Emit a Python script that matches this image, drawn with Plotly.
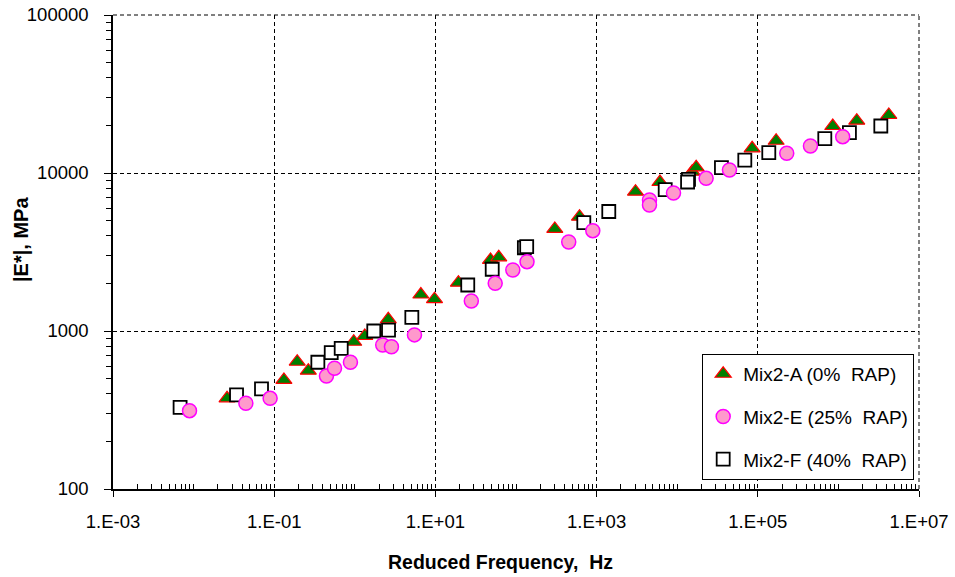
import plotly.graph_objects as go

# ---- data ----
freq_A = [0.026, 0.132, 0.193, 0.265, 0.97, 1.33, 1.84, 2.60, 6.6, 9.75, 19.3, 48.3, 61.1,
          303, 614, 3040, 6110, 15350, 17200, 85100, 168800, 851000, 1.69e6, 4.22e6]
mod_A = [375, 490, 639, 561, 855, 930, 990, 1186, 1702, 1590, 2022, 2815, 2927,
         4424, 5290, 7620, 8770, 10190, 10870, 14330, 16000, 19830, 21430, 23290]

freq_E = [0.0089, 0.0445, 0.089, 0.445, 0.56, 0.883, 2.22, 2.85, 5.5, 27.9, 55.2, 91.3, 137,
          451, 897, 4530, 4530, 9000, 22860, 44500, 228600, 450000, 1.13e6]
mod_E = [313, 349, 375, 519, 581, 634, 815, 795, 945, 1549, 2004, 2432, 2746,
         3658, 4313, 6747, 6270, 7470, 9250, 10450, 13330, 14830, 16980]

freq_F = [0.0068, 0.0341, 0.0696, 0.348, 0.51, 0.678, 1.72, 2.62, 5.1, 25.2, 50.7, 127, 135.7,
          694, 1416, 7100, 13810, 13450, 35400, 69000, 136900, 678000, 1.37e6, 3.36e6]
mod_F = [329, 394, 430, 634, 729, 777, 1000, 1014, 1221, 1955, 2459, 3365, 3417,
         4846, 5706, 7852, 9121, 8770, 10810, 12080, 13440, 16480, 17990, 19830]

names = ["Mix2-A (0%\u00a0 RAP)", "Mix2-E (25%\u00a0 RAP)", "Mix2-F (40%\u00a0 RAP)"]

x_tickvals = [1e-3, 1e-1, 1e1, 1e3, 1e5, 1e7]
x_ticktext = ["1.E-03", "1.E-01", "1.E+01", "1.E+03", "1.E+05", "1.E+07"]
y_tickvals = [100, 1000, 10000, 100000]
y_ticktext = ["100", "1000", "10000", "100000"]

x_minor = [m * 10.0 ** k for k in range(-3, 7) for m in range(2, 10)] + [1e-2, 1, 1e2, 1e4, 1e6]
y_minor = [m * 10.0 ** k for k in range(2, 5) for m in range(2, 10)]

FONT = "Liberation Sans, Arial, sans-serif"

fig = go.Figure()
fig.add_trace(go.Scatter(
    x=freq_A, y=mod_A, mode="markers", name=names[0], legendrank=1, legendgroup="a",
    marker=dict(symbol="triangle-up", size=14, color="#008000", line=dict(color="#FF0000", width=1.2)),
))
fig.add_trace(go.Scatter(
    x=freq_F, y=mod_F, mode="markers", name=names[2], legendrank=3, legendgroup="f",
    marker=dict(symbol="square", size=13, color="#FFFFFF", line=dict(color="#000000", width=1.8)),
))
fig.add_trace(go.Scatter(
    x=freq_E, y=mod_E, mode="markers", name=names[1], legendrank=2, legendgroup="e",
    marker=dict(symbol="circle", size=14, color="#FF99CC", line=dict(color="#FF00FF", width=1.5)),
))

fig.update_layout(
    width=955, height=577,
    margin=dict(l=113, r=36, t=15, b=88, autoexpand=False),
    paper_bgcolor="white", plot_bgcolor="white",
    font=dict(family=FONT, size=18, color="black"),
    showlegend=True,
    legend=dict(
        x=0.731, y=0.285, xanchor="left", yanchor="top",
        bgcolor="white", bordercolor="black", borderwidth=1,
        font=dict(family=FONT, size=19, color="black"),
        traceorder="grouped", tracegroupgap=15,
    ),
    xaxis=dict(
        type="log", range=[-3, 7], automargin=False,
        tickmode="array", tickvals=x_tickvals, ticktext=x_ticktext,
        ticks="outside", ticklen=6, tickwidth=1, tickcolor="black",
        showline=True, linecolor="black", linewidth=1.5, mirror=False,
        showgrid=True, gridcolor="black", gridwidth=1, griddash="4px,3px",
        zeroline=False, ticklabelstandoff=9,
        tickfont=dict(family=FONT, size=18.5, color="black"),
        minor=dict(tickmode="array", tickvals=x_minor, ticks="inside", ticklen=5,
                   tickcolor="black", tickwidth=1, showgrid=False),
    ),
    yaxis=dict(
        type="log", range=[2, 5], automargin=False,
        tickmode="array", tickvals=y_tickvals, ticktext=y_ticktext,
        ticks="outside", ticklen=7, tickwidth=1, tickcolor="black",
        showline=True, linecolor="black", linewidth=1.5, mirror=False,
        showgrid=True, gridcolor="black", gridwidth=1, griddash="4px,3px",
        zeroline=False, ticklabelstandoff=12,
        tickfont=dict(family=FONT, size=18.5, color="black"),
        minor=dict(tickmode="array", tickvals=y_minor, ticks="outside", ticklen=5,
                   tickcolor="black", tickwidth=1, showgrid=False),
    ),
    annotations=[
        dict(text="<b>Reduced Frequency,\u00a0 Hz</b>", xref="paper", yref="paper",
             x=(500 - 113) / 806, y=-(562 - 489) / 474, xanchor="center", yanchor="middle",
             showarrow=False, font=dict(family=FONT, size=19.5, color="black")),
        dict(text="<b>|E*|, MPa</b>", xref="paper", yref="paper", textangle=-90,
             x=-(113 - 21) / 806, y=(489 - 240) / 474, xanchor="center", yanchor="middle",
             showarrow=False, font=dict(family=FONT, size=20, color="black")),
    ],
    shapes=[
        dict(type="line", xref="paper", yref="paper", x0=0, x1=1, y0=1, y1=1,
             line=dict(color="black", width=1, dash="4px,3px")),
        dict(type="line", xref="paper", yref="paper", x0=1, x1=1, y0=0, y1=1,
             line=dict(color="black", width=1, dash="4px,3px")),
    ],
)

fig.write_html("out.html")
